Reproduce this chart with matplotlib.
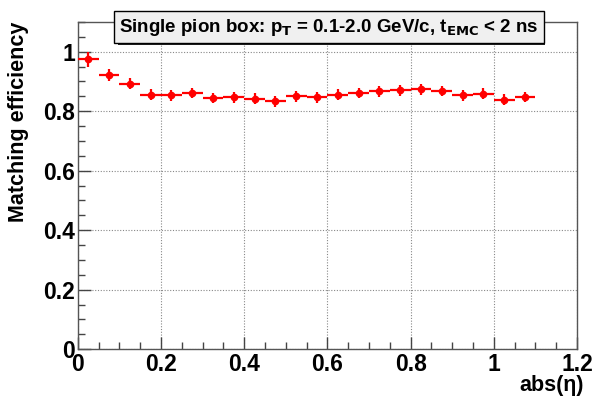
import matplotlib
matplotlib.use('Agg')
import matplotlib.pyplot as plt
import numpy as np
from matplotlib.ticker import MultipleLocator

# matching efficiency vs |eta|, 0.05 wide bins
bin_lo = [0.00, 0.05, 0.10, 0.15, 0.20, 0.25, 0.30, 0.35, 0.40, 0.45, 0.50,
          0.55, 0.60, 0.65, 0.70, 0.75, 0.80, 0.85, 0.90, 0.95, 1.00, 1.05]
eff = [0.974, 0.921, 0.893, 0.856, 0.853, 0.861, 0.844, 0.847, 0.842, 0.833, 0.850,
       0.846, 0.856, 0.861, 0.867, 0.870, 0.874, 0.868, 0.853, 0.859, 0.839, 0.848]
eff_err = [0.025, 0.02, 0.02, 0.018, 0.018, 0.018, 0.018, 0.018, 0.018, 0.018, 0.018,
           0.018, 0.018, 0.018, 0.018, 0.018, 0.018, 0.018, 0.018, 0.018, 0.018, 0.018]

plt.rcParams['font.family'] = ['Liberation Sans', 'DejaVu Sans']
plt.rcParams['font.weight'] = 'bold'

fig = plt.figure(figsize=(5.98, 3.99), dpi=100)
ax = fig.add_axes([0.130, 0.125, 0.835, 0.820])

width = 0.05
xc = np.array(bin_lo) + width / 2
ax.errorbar(xc, eff, xerr=width / 2, yerr=eff_err, fmt='o', color='red',
            ms=4.5, elinewidth=1.6, capsize=0, zorder=3)

ax.set_xlim(0, 1.2)
ax.set_ylim(0, 1.1)
ax.xaxis.set_minor_locator(MultipleLocator(0.05))
ax.yaxis.set_minor_locator(MultipleLocator(0.05))
ax.set_xticks([0, 0.2, 0.4, 0.6, 0.8, 1.0, 1.2])
ax.set_xticklabels(['0', '0.2', '0.4', '0.6', '0.8', '1', '1.2'])
ax.set_yticks([0, 0.2, 0.4, 0.6, 0.8, 1.0])
ax.set_yticklabels(['0', '0.2', '0.4', '0.6', '0.8', '1'])
ax.tick_params(which='both', direction='in', labelsize=16.5, color='#444444')
ax.tick_params(which='major', length=9, width=1)
ax.tick_params(which='minor', length=5, width=1)
ax.tick_params(axis='x', pad=3)
ax.tick_params(axis='y', pad=2)
for s in ax.spines.values():
    s.set_color('#555555')
    s.set_linewidth(1.0)

ax.grid(True, which='major', linestyle=(0, (1, 1.5)), color='#888888', linewidth=0.8)

ax.set_ylabel('Matching efficiency', fontsize=15.5, fontweight='bold', loc='top', labelpad=10)
fig.text(0.977, 0.035, 'abs(η)', fontsize=15.5, fontweight='bold', ha='right', va='center')

# title box with a drop shadow
title = r'Single pion box: p$_{\mathbf{T}}$ = 0.1-2.0 GeV/c, t$_{\mathbf{EMC}}$ < 2 ns'
fig.text(0.550, 0.932, title, fontsize=13.5, fontweight='bold', ha='center', va='center',
         zorder=5,
         bbox=dict(boxstyle='square,pad=0.3', facecolor='#f0f0f0', edgecolor='black',
                   linewidth=1.0))
ax.add_patch(plt.Rectangle((0.198, 0.886), 0.713, 0.007, transform=fig.transFigure,
                           facecolor='#222222', edgecolor='none', clip_on=False, zorder=4))
ax.add_patch(plt.Rectangle((0.904, 0.886), 0.007, 0.075, transform=fig.transFigure,
                           facecolor='#222222', edgecolor='none', clip_on=False, zorder=4))

fig.savefig('out.png', dpi=100)
